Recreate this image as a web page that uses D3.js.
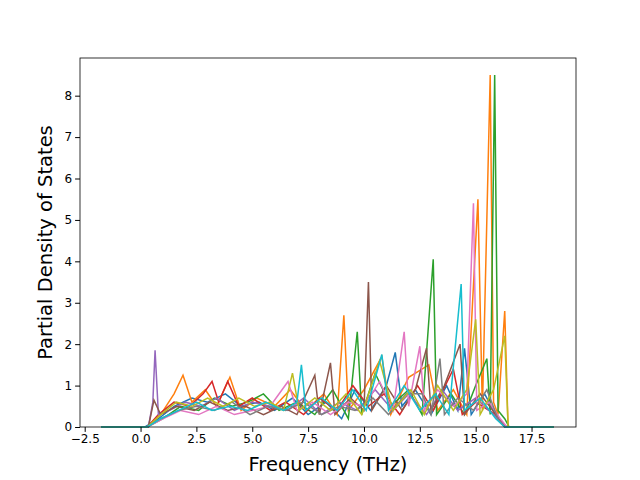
<!DOCTYPE html>
<html><head><meta charset="utf-8">
<script src="https://cdn.jsdelivr.net/npm/d3@7"></script>
<style>body{margin:0;background:#fff}</style></head>
<body><svg id="c" width="640" height="480"></svg>
<script>
const xTicks=[-2.5,0,2.5,5,7.5,10,12.5,15,17.5];
const yTicks=[0,1,2,3,4,5,6,7,8];
const colors=["#1f77b4","#ff7f0e","#2ca02c","#d62728","#9467bd","#8c564b","#e377c2","#7f7f7f","#bcbd22","#17becf"];
const sBlue=[[-1.77,0],[0.2,0],[0.8,0.2],[1.5,0.5],[2.3,0.7],[3.0,0.6],[3.8,0.8],[4.5,0.5],[5.3,0.6],[6.0,0.4],[6.8,0.7],[7.5,0.3],[8.3,0.6],[9.0,0.2],[9.6,0.9],[10.3,0.4],[11.0,1.0],[11.4,1.8],[11.7,0.5],[12.3,0.9],[13.0,0.3],[13.7,1.0],[14.2,0.4],[14.5,1.9],[14.8,0.3],[15.4,0.8],[16.0,0.2],[16.4,0],[18.5,0]];
const sOrange=[[-1.77,0],[0.3,0],[0.9,0.3],[1.5,0.8],[1.9,1.25],[2.3,0.6],[2.9,0.9],[3.4,0.5],[4.0,1.2],[4.5,0.4],[5.2,0.7],[6.0,0.5],[6.7,0.9],[7.4,0.4],[8.2,0.8],[8.8,0.3],[9.1,2.7],[9.3,0.4],[10.0,0.9],[10.8,1.7],[11.2,0.3],[12.0,1.2],[12.9,1.5],[13.3,0.4],[14.0,0.9],[14.6,0.3],[15.1,5.5],[15.3,0.4],[15.65,8.5],[15.8,0.6],[16.0,0.3],[16.3,2.8],[16.45,0],[18.5,0]];
const sGreen=[[-1.77,0],[0.3,0],[1.0,0.2],[1.8,0.5],[2.6,0.4],[3.3,0.7],[4.1,0.5],[4.8,0.6],[5.5,0.8],[6.2,0.4],[7.0,0.6],[7.8,0.3],[8.6,0.9],[9.3,0.2],[9.7,2.3],[9.9,0.3],[10.5,1.3],[11.2,0.5],[12.0,0.9],[12.6,0.3],[13.1,4.05],[13.25,0.3],[13.9,0.8],[14.5,0.3],[15.0,1.0],[15.5,1.65],[15.65,0.3],[15.85,8.5],[16.0,0.4],[16.3,0.2],[16.5,0],[18.5,0]];
const sRed=[[-1.77,0],[0.3,0],[0.8,0.3],[1.5,0.6],[2.2,0.5],[2.8,0.8],[3.2,1.1],[3.5,0.6],[3.9,1.1],[4.4,0.5],[5.0,0.7],[5.8,0.4],[6.5,0.6],[7.3,0.3],[8.0,0.7],[8.8,0.4],[9.5,1.0],[10.2,0.5],[10.9,0.8],[11.6,0.3],[12.4,1.0],[13.1,0.4],[14.0,1.4],[14.4,0.3],[15.0,0.6],[15.9,0.3],[16.3,0],[18.5,0]];
const sPurple=[[-1.77,0],[0.35,0],[0.55,0.6],[0.65,1.85],[0.8,0.3],[1.3,0.4],[2.0,0.6],[2.7,0.5],[3.4,0.7],[4.2,0.4],[5.0,0.6],[5.8,0.5],[6.6,0.4],[7.3,0.7],[8.1,0.3],[8.9,0.6],[9.7,0.4],[10.5,0.9],[11.3,0.4],[12.0,0.8],[12.8,0.3],[13.5,0.9],[14.2,0.4],[15.0,0.7],[15.8,0.3],[16.3,0],[18.5,0]];
const sBrown=[[-1.77,0],[0.35,0],[0.6,0.65],[0.9,0.3],[1.6,0.5],[2.4,0.4],[3.1,0.6],[3.9,0.4],[4.7,0.5],[5.5,0.3],[6.3,0.5],[7.0,0.3],[7.8,1.25],[8.0,0.3],[8.5,1.55],[8.7,0.3],[9.4,0.7],[10.0,0.4],[10.2,3.5],[10.35,0.4],[11.0,1.0],[11.7,0.4],[12.3,0.9],[12.8,1.9],[13.0,0.4],[13.6,1.0],[14.3,2.0],[14.5,0.3],[15.2,0.8],[15.9,0.3],[16.3,0],[18.5,0]];
const sPink=[[-1.77,0],[0.3,0],[1.0,0.2],[1.8,0.4],[2.6,0.3],[3.4,0.5],[4.2,0.3],[5.0,0.4],[5.8,0.5],[6.6,1.1],[7.0,0.4],[7.7,0.6],[8.5,0.3],[9.3,0.6],[10.0,0.5],[10.7,1.1],[11.3,0.4],[11.8,2.3],[12.0,0.5],[12.5,1.95],[12.7,0.4],[13.3,0.9],[14.0,0.5],[14.6,0.8],[14.9,5.4],[15.05,0.4],[15.6,0.6],[16.1,0.2],[16.4,0],[18.5,0]];
const sGray=[[-1.77,0],[0.3,0],[0.9,0.2],[1.7,0.4],[2.5,0.5],[3.3,0.4],[4.1,0.6],[4.9,0.3],[5.7,0.5],[6.5,0.4],[7.3,0.6],[8.1,0.3],[8.9,0.5],[9.6,0.4],[10.4,0.7],[11.1,0.3],[11.9,0.8],[12.6,0.8],[13.0,0.3],[13.4,1.65],[13.6,0.3],[14.2,0.7],[14.9,0.4],[15.5,0.9],[16.0,0.2],[16.3,0],[18.5,0]];
const sOlive=[[-1.77,0],[0.3,0],[0.9,0.3],[1.6,0.6],[2.3,0.5],[3.0,0.7],[3.7,0.5],[4.4,0.7],[5.1,0.5],[5.8,0.6],[6.4,0.4],[6.8,1.3],[7.1,0.4],[7.8,0.7],[8.5,0.4],[9.2,0.8],[9.9,0.3],[10.7,1.6],[11.3,0.4],[12.1,0.9],[12.7,0.3],[13.3,1.0],[14.0,0.4],[14.6,0.9],[15.0,2.6],[15.2,0.3],[15.8,0.9],[16.3,2.2],[16.45,0],[18.5,0]];
const sCyan=[[-1.77,0],[0.3,0],[0.9,0.2],[1.7,0.4],[2.5,0.6],[3.2,0.4],[4.0,0.5],[4.8,0.4],[5.6,0.6],[6.4,0.4],[7.0,0.6],[7.2,1.5],[7.4,0.4],[8.1,0.7],[8.8,0.4],[9.5,0.9],[10.1,0.4],[10.8,1.75],[11.1,0.4],[11.8,1.0],[12.5,0.4],[13.2,0.8],[13.8,0.3],[14.35,3.45],[14.5,0.4],[15.2,0.7],[15.9,0.2],[16.3,0],[18.5,0]];
const series=[sBlue,sOrange,sGreen,sRed,sPurple,sBrown,sPink,sGray,sOlive,sCyan];

const svg=d3.select("#c");
const m={l:80,r:576,t:58,b:427};
const x=d3.scaleLinear().domain([-2.71,19.49]).range([m.l,m.r]);
const y=d3.scaleLinear().domain([0,8.91]).range([m.b,m.t]);
const line=d3.line().x(d=>x(d[0])).y(d=>y(d[1]));
const g=svg.append("g");
series.forEach((s,i)=>g.append("path").attr("d",line(s)).attr("fill","none").attr("stroke",colors[i]).attr("stroke-width",1.5));
svg.append("g").attr("transform",`translate(0,${m.b})`).call(d3.axisBottom(x).tickValues(xTicks).tickFormat(d3.format(".1f")).tickSizeOuter(0).tickSize(4.9).tickPadding(3))
 .call(a=>a.selectAll("text").attr("font-size",12).attr("font-family","DejaVu Sans").attr("fill","#000"));
svg.append("g").attr("transform",`translate(${m.l},0)`).call(d3.axisLeft(y).tickValues(yTicks).tickFormat(d3.format("d")).tickSizeOuter(0).tickSize(4.9).tickPadding(3))
 .call(a=>a.selectAll("text").attr("font-size",12).attr("font-family","DejaVu Sans").attr("fill","#000"));
svg.selectAll(".domain").remove();
svg.append("rect").attr("x",m.l).attr("y",m.t).attr("width",m.r-m.l).attr("height",m.b-m.t).attr("fill","none").attr("stroke","#000").attr("stroke-width",0.8);
svg.append("text").attr("x",(m.l+m.r)/2).attr("y",471).attr("text-anchor","middle").attr("font-size",19.5).attr("font-family","DejaVu Sans").text("Frequency (THz)");
svg.append("text").attr("transform",`translate(52,${(m.t+m.b)/2}) rotate(-90)`).attr("text-anchor","middle").attr("font-size",19.5).attr("font-family","DejaVu Sans").text("Partial Density of States");
</script></body></html>
